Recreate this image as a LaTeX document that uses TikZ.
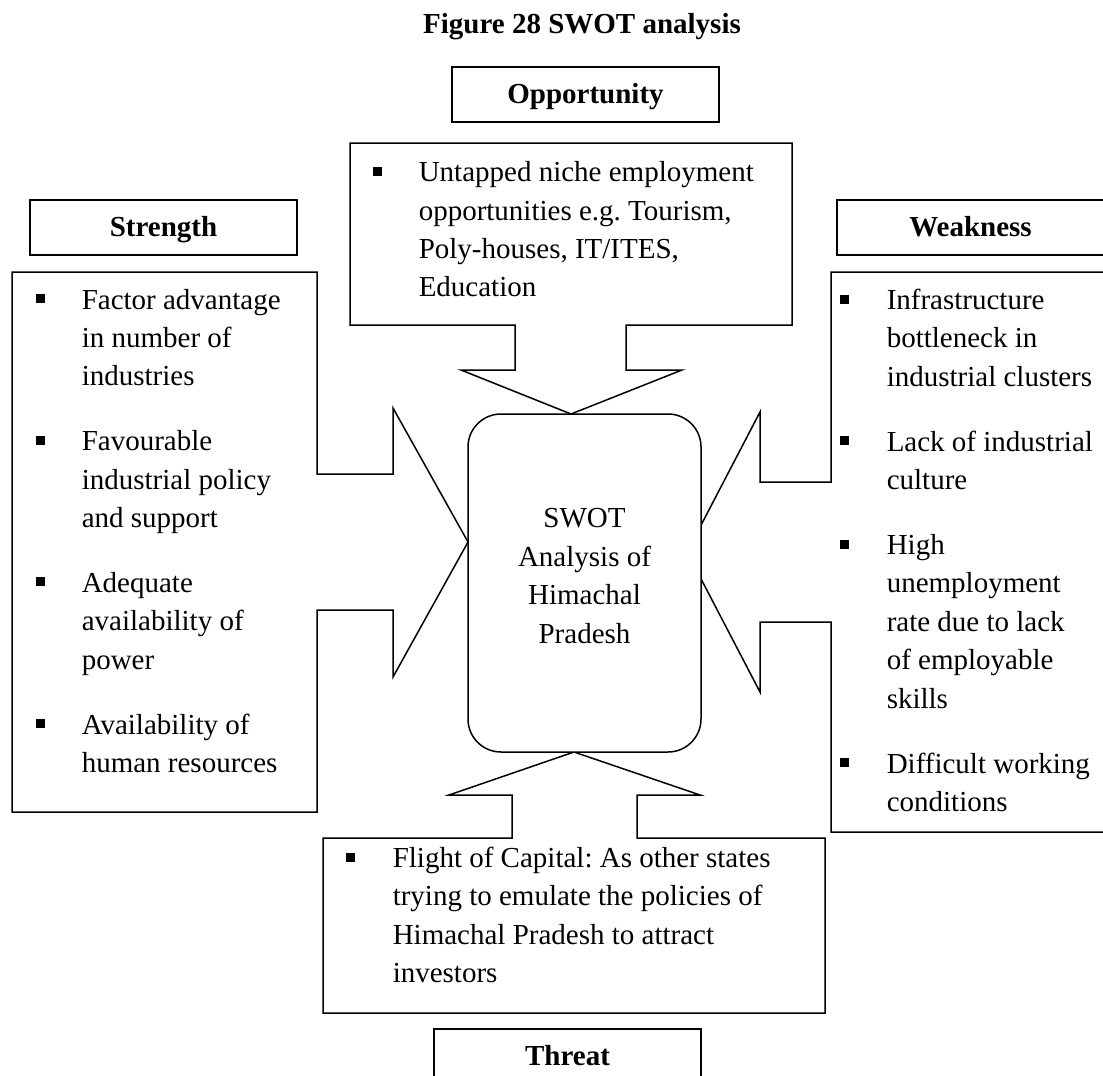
\documentclass[tikz,border=0pt]{standalone}
\usepackage{fontspec}
\setmainfont{Liberation Serif}
\usepackage{array}
\usepackage{tikz}
\frenchspacing

\newcommand\sq{\rule[6pt]{9pt}{9pt}}

\begin{document}
\begin{tikzpicture}[x=1pt, y=-1pt, line width=1.5pt,
	every node/.style={font=\fontsize{29}{38.4}\selectfont, inner sep=0pt},
	labelbox/.style={draw, line width=2pt, minimum width=267pt, minimum height=55pt,
		text height=21pt, text depth=3pt, font=\fontsize{29}{38.4}\selectfont\bfseries},
	callout/.style={draw, line width=1.5pt, line join=miter},
	list/.style={anchor=base west, align=left}]
			\useasboundingbox (0,0) rectangle (1103,1076);

			% Title
			\node[anchor=base, font=\fontsize{29}{38.4}\selectfont\bfseries] (title) at (582,33) {Figure 28 SWOT analysis};

			% Labels
			\node[labelbox] (opp) at (585.5,94) {Opportunity};
			\node[labelbox] (str) at (163.5,227.5) {Strength};
			\node[labelbox] (wk) at (970.5,227.5) {Weakness};
			\node[labelbox] (thr) at (567.5,1056.5) {Threat};

			% Callouts
			\draw[callout] (12,272) -- (317,272) -- (317,474) -- (393,474) -- (393,408) -- (468,542)
				-- (393,677) -- (393,610) -- (317,610) -- (317,812) -- (12,812) -- cycle;
			\draw[callout] (350,143) -- (792,143) -- (792,325) -- (626,325) -- (626,370) -- (682,370)
				-- (571,414) -- (461,370) -- (515,370) -- (515,325) -- (350,325) -- cycle;
			\draw[callout] (831,272) -- (1110,272) -- (1110,832) -- (831,832) -- (831,622) -- (760,622)
				-- (760,692) -- (687,552) -- (760,412) -- (760,482) -- (831,482) -- cycle;
			\draw[callout] (323,838) -- (512,838) -- (512,795) -- (449,795) -- (574,752) -- (700,795)
				-- (637,795) -- (637,838) -- (825,838) -- (825,1013) -- (323,1013) -- cycle;

			% Centre
			\node[draw, fill=white, rounded corners=33pt, minimum width=233pt, minimum height=338pt, line width=1.5pt] (swot) at (584.5,583) {};
			\node[anchor=base, align=center] (swottext) at (584.5,643) {SWOT\\Analysis of\\Himachal\\Pradesh};

			% Lists
			\node[list] (strlist) at (35.5,309) {\begin{tabular}[t]{@{}p{45.5pt}@{}l@{}}
				\sq & Factor advantage\\ & in number of\\ & industries\\[26.5pt]
				\sq & Favourable\\ & industrial policy\\ & and support\\[26.5pt]
				\sq & Adequate\\ & availability of\\ & power\\[26.5pt]
				\sq & Availability of\\ & human resources
			\end{tabular}};
			\node[list] (opplist) at (372.5,181.7) {\begin{tabular}[t]{@{}p{45.5pt}@{}l@{}}
				\sq & Untapped niche employment\\ & opportunities e.g. Tourism,\\ & Poly-houses, IT/ITES,\\ & Education
			\end{tabular}};
			\node[list] (wklist) at (839.5,309.5) {\begin{tabular}[t]{@{}p{46.5pt}@{}l@{}}
				\sq & Infrastructure\\ & bottleneck in\\ & industrial clusters\\[26.5pt]
				\sq & Lack of industrial\\ & culture\\[26.5pt]
				\sq & High\\ & unemployment\\ & rate due to lack\\ & of employable\\ & skills\\[26.5pt]
				\sq & Difficult working\\ & conditions
			\end{tabular}};
			\node[list] (thrlist) at (345.5,867.5) {\begin{tabular}[t]{@{}p{46.5pt}@{}l@{}}
				\sq & Flight of Capital: As other states\\ & trying to emulate the policies of\\ & Himachal Pradesh to attract\\ & investors
			\end{tabular}};
		\end{tikzpicture}
\end{document}
